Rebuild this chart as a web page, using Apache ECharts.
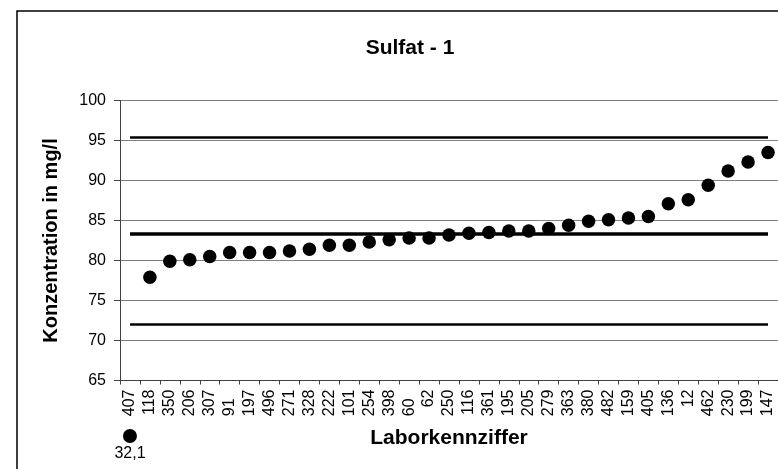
<!DOCTYPE html>
<html>
<head>
<meta charset="utf-8">
<script src="https://cdn.jsdelivr.net/npm/echarts@6/dist/echarts.min.js"></script>
<style>
  html, body { margin: 0; padding: 0; background: #fff; }
  #chart { width: 778px; height: 469px; }
</style>
</head>
<body>
<div id="chart"></div>
<script>
// Laboratory codes, sorted by reported concentration
const categories = ['407', '118', '350', '206', '307', '91\u2007', '197', '496', '271', '328', '222',
  '101', '254', '398', '60\u2007', '62', '250', '116', '361', '195', '205', '279', '363', '380',
  '482', '159', '405', '136', '12', '462', '230', '199', '147'];

// Reported sulfate concentration per laboratory (mg/l)
const values = [32.1, 77.9, 79.9, 80.1, 80.5, 81.0, 81.0, 81.0, 81.2, 81.4, 81.9,
  81.9, 82.3, 82.6, 82.8, 82.8, 83.2, 83.4, 83.5, 83.7, 83.7, 84.0, 84.4, 84.9,
  85.1, 85.3, 85.5, 87.1, 87.6, 89.4, 91.2, 92.3, 93.5];

// Reference value and tolerance limits (mg/l)
const upperLimit = 95.4;
const assignedValue = 83.3;
const lowerLimit = 72.0;

// Value axis range and tick step
const yMin = 65;
const yMax = 100;
const yStep = 5;

const FONT = '"Liberation Sans", Arial, Helvetica, sans-serif';

// Points inside the axis range go to the main plot, the rest to the strip below it
const inRange = values.map(v => (v < yMin || v > yMax) ? '-' : v);
const belowRange = [];
values.forEach((v, i) => { if (v < yMin) belowRange.push([i, 0, v]); });

const first = categories[0];
const last = categories[categories.length - 1];
const limitLine = (v, w) => ([
  { coord: [first, v], lineStyle: { width: w } },
  { coord: [last, v] }
]);

const chart = echarts.init(document.getElementById('chart'), null, { renderer: 'canvas' });

chart.setOption({
  animation: false,
  backgroundColor: '#ffffff',
  textStyle: { fontFamily: FONT, color: '#000' },
  graphic: [{
    type: 'rect',
    silent: true,
    z: -10,
    shape: { x: 17, y: 11, width: 800, height: 500 },
    style: { fill: 'none', stroke: '#000', lineWidth: 1.5 }
  }],
  title: {
    text: 'Sulfat - 1',
    left: 405,
    top: 33,
    textAlign: 'center',
    textStyle: { fontFamily: FONT, fontSize: 21, fontWeight: 'bold', color: '#000' }
  },
  grid: [
    { left: 120, top: 100.5, width: 662, height: 280 },
    { left: 120, top: 429, width: 662, height: 14 }
  ],
  xAxis: [{
    gridIndex: 0,
    type: 'category',
    data: categories,
    boundaryGap: true,
    name: 'Laborkennziffer',
    nameLocation: 'middle',
    nameGap: 47,
    nameTextStyle: { fontFamily: FONT, fontSize: 21, fontWeight: 'bold', color: '#000', verticalAlign: 'top' },
    axisLine: { lineStyle: { color: '#404040', width: 1 } },
    axisTick: { show: true, length: 4, lineStyle: { color: '#404040' }, interval: 0 },
    axisLabel: { interval: 0, rotate: 90, margin: 9, fontFamily: FONT, fontSize: 16, color: '#000' },
    splitLine: { show: false }
  }, {
    gridIndex: 1,
    type: 'category',
    data: categories,
    boundaryGap: true,
    show: false
  }],
  yAxis: [{
    gridIndex: 0,
    type: 'value',
    min: yMin,
    max: yMax,
    interval: yStep,
    name: 'Konzentration in mg/l',
    nameLocation: 'middle',
    nameGap: 59,
    nameTextStyle: { fontFamily: FONT, fontSize: 20, fontWeight: 'bold', color: '#000' },
    axisLine: { show: true, lineStyle: { color: '#404040', width: 1 } },
    axisTick: { show: true, length: 6, lineStyle: { color: '#404040' } },
    axisLabel: { margin: 14, fontFamily: FONT, fontSize: 16, color: '#000' },
    splitLine: { show: true, lineStyle: { color: '#808080', width: 1 } }
  }, {
    gridIndex: 1,
    type: 'category',
    data: ['below'],
    show: false
  }],
  series: [{
    type: 'scatter',
    xAxisIndex: 0,
    yAxisIndex: 0,
    data: inRange,
    symbol: 'circle',
    symbolSize: 13.5,
    itemStyle: { color: '#000', opacity: 1 },
    z: 5,
    markLine: {
      silent: true,
      symbol: 'none',
      label: { show: false },
      lineStyle: { color: '#000', type: 'solid', width: 2.5 },
      data: [
        limitLine(upperLimit, 2.5),
        limitLine(assignedValue, 3.5),
        limitLine(lowerLimit, 2.5)
      ]
    }
  }, {
    type: 'scatter',
    xAxisIndex: 1,
    yAxisIndex: 1,
    data: belowRange,
    symbol: 'circle',
    symbolSize: 14,
    itemStyle: { color: '#000', opacity: 1 },
    label: {
      show: true,
      position: 'bottom',
      distance: 3,
      fontFamily: FONT,
      fontSize: 16,
      color: '#000',
      formatter: p => String(p.value[2]).replace('.', ',')
    }
  }]
});
</script>
</body>
</html>
